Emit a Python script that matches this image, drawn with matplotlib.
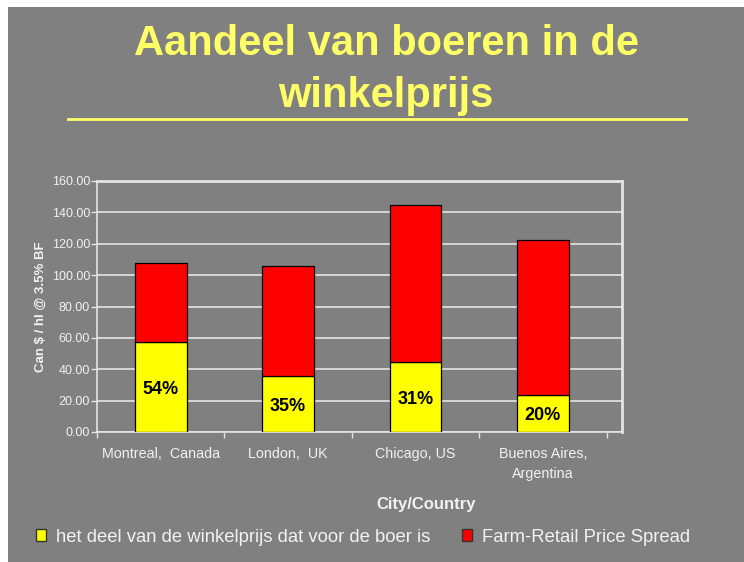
import matplotlib
matplotlib.use("Agg")
import matplotlib.pyplot as plt
import numpy as np
from matplotlib.patches import Rectangle, Patch

# Data
cities = ["Montreal,  Canada", "London,  UK", "Chicago, US", "Buenos Aires,\nArgentina"]
farmer_share = [57.5, 36.0, 44.5, 23.5]      # het deel voor de boer
price_spread = [50.3, 69.7, 100.1, 98.9]     # farm-retail price spread
share_labels = ["54%", "35%", "31%", "20%"]
y_ticks = [0, 20, 40, 60, 80, 100, 120, 140, 160]

BG = "#808080"
LIGHT = "#f2f2f2"
GRID = "#e4e4e4"
TITLE = "#ffff66"

plt.rcParams["font.family"] = ["Liberation Sans", "DejaVu Sans"]

fig = plt.figure(figsize=(7.44, 5.62), dpi=100, facecolor="white")
# slide background (small white margin top / left)
fig.patches.append(Rectangle((8 / 744, 0), 1, 1 - 7 / 562, transform=fig.transFigure,
                             facecolor=BG, edgecolor="none", zorder=-10))

fig.text(0.519, 1 - 55 / 562, "Aandeel van boeren in de", ha="center", va="baseline",
         fontsize=30, fontweight="bold", color=TITLE)
fig.text(0.519, 1 - 107 / 562, "winkelprijs", ha="center", va="baseline",
         fontsize=30, fontweight="bold", color=TITLE)
fig.add_artist(plt.Line2D([68 / 744, 686 / 744], [1 - 119 / 562] * 2,
                          transform=fig.transFigure, color=TITLE, lw=2))

ax = fig.add_axes([97 / 744, 1 - 432 / 562, 525 / 744, 251 / 562])
ax.set_facecolor(BG)

x = np.arange(len(cities))
width = 0.405
ax.bar(x, farmer_share, width, color="#ffff00", edgecolor="black", lw=0.9, zorder=3)
ax.bar(x, price_spread, width, bottom=farmer_share, color="#ff0000",
       edgecolor="black", lw=0.9, zorder=3)

for xi, val, lab in zip(x, farmer_share, share_labels):
    ax.text(xi, val / 2 - 1.5, lab, ha="center", va="center", fontsize=13,
            fontweight="bold", color="black", zorder=4)

ax.set_ylim(0, 160)
ax.set_yticks(y_ticks)
ax.set_yticklabels([f"{v:.2f}" for v in y_ticks])
ax.set_xlim(-0.5, 3.62)
ax.set_xticks(np.arange(-0.5, 4, 1.0))
ax.set_xticklabels([])
ax.set_xticks(x, minor=True)
ax.set_xticklabels(cities, minor=True, linespacing=1.55, va="top")
ax.tick_params(axis="x", which="minor", length=0, pad=11, labelsize=10.3, labelcolor=LIGHT)
ax.tick_params(axis="x", which="major", length=4, color=GRID, width=1)
ax.tick_params(axis="y", length=4, color=GRID, width=1, labelsize=9, labelcolor=LIGHT, pad=1)

ax.grid(axis="y", color=GRID, lw=1.2, zorder=0)
ax.set_axisbelow(True)
for name, sp in ax.spines.items():
    sp.set_color(GRID)
    sp.set_linewidth(1.2 if name in ("left", "bottom") else 2)

ax.set_ylabel("Can $ / hl @ 3.5% BF", fontsize=9.5, fontweight="bold", color=LIGHT)
ax.yaxis.set_label_coords(-0.095, 0.5)
fig.text(426 / 744, 1 - 505 / 562, "City/Country", ha="center", va="center",
         fontsize=12, fontweight="bold", color=LIGHT)

handles = [Patch(facecolor="#ffff00", edgecolor="#333333", lw=1),
           Patch(facecolor="#ff0000", edgecolor="#333333", lw=1)]
fig.legend(handles, ["het deel van de winkelprijs dat voor de boer is", "Farm-Retail Price Spread"],
           loc="center", bbox_to_anchor=(363 / 744, 1 - 537 / 562), ncol=2, frameon=False,
           fontsize=13.3, labelcolor=LIGHT, handlelength=0.55, handleheight=0.6,
           handletextpad=0.55, columnspacing=1.7)

fig.savefig("out.png", dpi=100, facecolor="white")
